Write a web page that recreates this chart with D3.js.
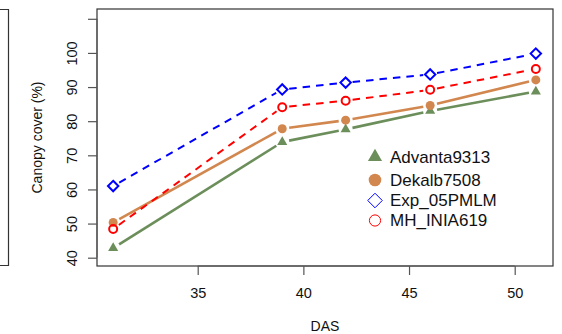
<!DOCTYPE html>
<html>
<head>
<meta charset="utf-8">
<script src="https://cdn.jsdelivr.net/npm/d3@7"></script>
<style>
  body { margin: 0; background: #fff; }
  text { font-family: Arial, "Liberation Sans", sans-serif; fill: #111; }
</style>
</head>
<body>
<div id="vis"></div>
<script>
// canopy cover vs days after sowing
const FRAME_WIDTH = 562;
const FRAME_HEIGHT = 334;
const BOX = {left: 97, right: 553, top: 9, bottom: 266};

const das = [31, 39, 42, 46, 51];
const advanta = [42.8, 73.9, 77.6, 83.0, 88.7];
const dekalb = [50.3, 77.8, 80.3, 84.6, 92.1];
const exp05 = [61.0, 89.3, 91.3, 93.7, 99.8];
const mhInia = [48.4, 84.1, 86.0, 89.2, 95.3];

const xTicks = [35, 40, 45, 50];
const yTicks = [40, 50, 60, 70, 80, 90, 100, 110];
const yLabels = ["40", "50", "60", "70", "80", "90", "100", ""];

const seriesNames = ["Advanta9313", "Dekalb7508", "Exp_05PMLM", "MH_INIA619"];
const seriesValues = [advanta, dekalb, exp05, mhInia];
const seriesColors = ["#6b8e5a", "#d2874f", "#0000ff", "#ff0000"];
const seriesDash = [null, null, "7.5,6", "7.5,6"];
const seriesShape = ["triangle", "dot", "diamond", "ring"];

const X_SCALE = d3.scaleLinear().domain([35, 50]).range([197.7, 514.7]);
const Y_SCALE = d3.scaleLinear().domain([40, 110]).range([257.7, 18.8]);

const svg = d3.select("#vis")
  .append("svg")
    .attr("width", FRAME_WIDTH)
    .attr("height", FRAME_HEIGHT);

// edge of the neighbouring panel on the left
svg.append("path")
  .attr("d", "M0,9.5H8.5V265.5H0")
  .attr("fill", "none")
  .attr("stroke", "#333")
  .attr("stroke-width", 1.2);

// plot box
svg.append("rect")
  .attr("x", BOX.left)
  .attr("y", BOX.top)
  .attr("width", BOX.right - BOX.left)
  .attr("height", BOX.bottom - BOX.top)
  .attr("fill", "none")
  .attr("stroke", "#333")
  .attr("stroke-width", 1.2);

// x axis
const xAxis = svg.append("g")
  .attr("transform", "translate(0," + BOX.bottom + ")")
  .call(d3.axisBottom(X_SCALE).tickValues(xTicks).tickSize(9).tickPadding(13));
xAxis.select(".domain").attr("stroke", "#555").attr("d", "M" + X_SCALE(35) + ",0H" + X_SCALE(50));
xAxis.selectAll(".tick line").attr("stroke", "#555").attr("stroke-width", 1.2);
xAxis.selectAll(".tick text").attr("font-size", "14.5px");

// y axis
const yAxis = svg.append("g")
  .attr("transform", "translate(" + BOX.left + ",0)")
  .call(d3.axisLeft(Y_SCALE).tickValues(yTicks).tickSize(9)
    .tickFormat((d, i) => yLabels[i]));
yAxis.select(".domain").attr("stroke", "#555").attr("d", "M0," + Y_SCALE(40) + "V" + Y_SCALE(110));
yAxis.selectAll(".tick line").attr("stroke", "#555").attr("stroke-width", 1.2);
yAxis.selectAll(".tick text")
  .attr("font-size", "14.5px")
  .attr("x", null).attr("dy", null)
  .attr("text-anchor", "middle")
  .attr("transform", "translate(-25,0) rotate(-90)")
  .attr("dy", "0.35em");

svg.append("text")
  .attr("transform", "translate(42," + ((BOX.top + BOX.bottom) / 2) + ") rotate(-90)")
  .attr("text-anchor", "middle")
  .attr("font-size", "14px")
  .text("Canopy cover (%)");

svg.append("text")
  .attr("x", (BOX.left + BOX.right) / 2)
  .attr("y", 331)
  .attr("text-anchor", "middle")
  .attr("font-size", "14px")
  .text("DAS");

// marker helper
function drawMarker(g, shape, color, x, y, scale, lw) {
  if (shape === "triangle") {
    g.append("path")
      .attr("d", d3.symbol(d3.symbolTriangle, 44 * scale * scale)())
      .attr("transform", "translate(" + x + "," + y + ")")
      .attr("fill", color);
  } else if (shape === "dot") {
    g.append("circle").attr("cx", x).attr("cy", y).attr("r", 4.5 * scale).attr("fill", color);
  } else if (shape === "diamond") {
    const r = 5.2 * scale;
    g.append("path")
      .attr("d", "M" + x + "," + (y - r) + "L" + (x + r) + "," + y + "L" + x + "," + (y + r) + "L" + (x - r) + "," + y + "Z")
      .attr("fill", "none").attr("stroke", color).attr("stroke-width", lw);
  } else {
    g.append("circle").attr("cx", x).attr("cy", y).attr("r", 4 * scale)
      .attr("fill", "none").attr("stroke", color).attr("stroke-width", lw);
  }
}

// series: lines with gaps at points (type = "b")
const GAP = 7;
seriesValues.forEach((vals, s) => {
  const g = svg.append("g");
  const pts = das.map((d, i) => [X_SCALE(d), Y_SCALE(vals[i])]);
  for (let i = 0; i < pts.length - 1; i++) {
    const [x0, y0] = pts[i];
    const [x1, y1] = pts[i + 1];
    const len = Math.hypot(x1 - x0, y1 - y0);
    const ux = (x1 - x0) / len, uy = (y1 - y0) / len;
    g.append("line")
      .attr("x1", x0 + ux * GAP).attr("y1", y0 + uy * GAP)
      .attr("x2", x1 - ux * GAP).attr("y2", y1 - uy * GAP)
      .attr("stroke", seriesColors[s])
      .attr("stroke-width", seriesDash[s] ? 2 : 2.6)
      .attr("stroke-dasharray", seriesDash[s]);
  }
  pts.forEach(p => drawMarker(g, seriesShape[s], seriesColors[s], p[0], p[1], 1, 2));
});

// legend
const legend = svg.append("g");
const legendY = [157, 180, 200.5, 220.5];
seriesNames.forEach((name, i) => {
  drawMarker(legend, seriesShape[i], seriesColors[i], 375, legendY[i], 1.4, 1);
  legend.append("text")
    .attr("x", 390)
    .attr("y", legendY[i])
    .attr("dy", "0.35em")
    .attr("font-size", "17px")
    .text(name);
});
</script>
</body>
</html>
